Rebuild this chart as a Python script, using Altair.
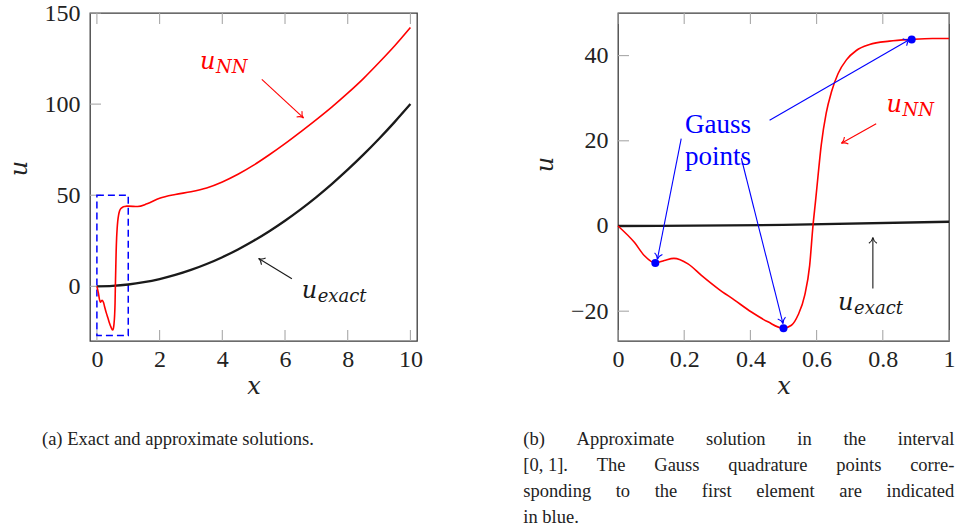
import math
import altair as alt
import pandas as pd

# ---------------- data ----------------
# exact solution u = x^2, sampled on [0, 10]
exact_x = [0, 0.5, 1, 1.5, 2, 2.5, 3, 3.5, 4, 4.5, 5, 5.5, 6, 6.5, 7, 7.5, 8, 8.5, 9, 9.5, 10]
exact_u = [0, 0.25, 1, 2.25, 4, 6.25, 9, 12.25, 16, 20.25, 25, 30.25, 36, 42.25, 49,
           56.25, 64, 72.25, 81, 90.25, 100]

# network solution on the first element [0, 1]
nn_x_first = [0, 0.05, 0.08, 0.1127, 0.14, 0.169, 0.2115, 0.252, 0.302, 0.352, 0.403,
              0.453, 0.4985, 0.524, 0.544, 0.564, 0.579, 0.589, 0.597, 0.604, 0.614,
              0.629, 0.645, 0.665, 0.69, 0.72, 0.76, 0.82, 0.8873, 0.95, 1.0]
nn_u_first = [0, -3.9, -7.0, -8.7, -8.1, -7.6, -8.9, -11.6, -14.7, -17.4, -20.2,
              -22.5, -24.0, -23.3, -20.9, -16.3, -9.3, 0, 6.0, 11.5, 19.0,
              26.5, 31.5, 35.8, 39.0, 41.2, 42.6, 43.4, 43.8, 44.0, 44.0]

# network solution on (1, 10]
nn_x_rest = [1.3, 1.6, 2.0, 2.5, 3.0, 3.5, 4.0, 4.5, 5.0, 5.5, 6.0, 6.5, 7.0, 7.5,
             8.0, 8.5, 9.0, 9.5, 10.0]
nn_u_rest = [43.8, 45.3, 48.3, 50.4, 51.9, 54.0, 57.3, 61.5, 66.5, 72.2, 78.3, 84.8,
             91.5, 98.5, 106.0, 114.0, 122.8, 132.0, 142.0]

# Gauss quadrature points of the first element
gauss_x = [0.1127, 0.5, 0.8873]
gauss_u = [-8.7, -24.0, 43.8]

# window of the first element, outlined on the left panel
box_x = [0, 1]
box_u = [-27, 50]

left_xticks = [0, 2, 4, 6, 8, 10]
left_uticks = [0, 50, 100, 150]
right_xticks = [0, 0.2, 0.4, 0.6, 0.8, 1]
right_uticks = [-20, 0, 20, 40]

# annotation arrows: start (x1, u1) -> tip (x2, u2)
left_arrow_x1 = [5.26, 6.22]
left_arrow_u1 = [113.6, 4.2]
left_arrow_x2 = [6.59, 5.16]
left_arrow_u2 = [92.4, 15.3]
left_arrow_col = ["#ff0000", "#1a1a1a"]

right_arrow_x1 = [0.780, 0.770, 0.191, 0.3726, 0.458]
right_arrow_u1 = [24.0, -14.7, 20.5, 15.9, 24.8]
right_arrow_x2 = [0.675, 0.770, 0.119, 0.4985, 0.881]
right_arrow_u2 = [19.4, -2.7, -7.8, -22.9, 43.8]
right_arrow_col = ["#ff0000", "#1a1a1a", "#0000ff", "#0000ff", "#0000ff"]

# curve labels u_{NN}, u_{exact}
left_label_x = [3.285, 6.53]
left_label_u = [119.1, -6.3]
right_label_x = [0.811, 0.665]
right_label_u = [26.7, -19.8]
label_sub = ["NN", "exact"]
label_col = ["#ff0000", "#1a1a1a"]

gauss_text_x = [0.302]
gauss_text_u = [23.8]

caption_a = "(a) Exact and approximate solutions."
caption_b = [
    ["(b)", "Approximate", "solution", "in", "the", "interval"],
    ["[0, 1].", "The", "Gauss", "quadrature", "points", "corre-"],
    ["sponding", "to", "the", "first", "element", "are", "indicated"],
    ["in", "blue."],
]

# ---------------- styling ----------------
RED = "#ff0000"
BLUE = "#0000ff"
BLACK = "#1a1a1a"
TICK = "#a8a8a8"
FRAME = "#3c3c3c"
TXT = "#222222"
SERIF = "Liberation Serif"
MATH = "DejaVu Serif"

H = 328
LW, RW = 327, 331
left_xdom, left_udom = [-0.22, 10.21], [-30, 150]
right_xdom, right_udom = [0, 1], [-27, 50]

ARROW_HEAD = "M -1 -0.7 C -0.75 -0.3 -0.35 -0.07 0 0 C -0.35 0.07 -0.75 0.3 -1 0.7"


def axes(xvals, uvals, title_y):
    common = dict(labelExpr="format(datum.value, '~f')", labelFont=SERIF, labelFontSize=24,
                  labelColor=TXT, ticks=False, domain=False, grid=False,
                  labelFlush=False, labelOverlap=False,
                  titleFont=MATH, titleFontStyle="italic", titleFontWeight="normal",
                  titleFontSize=24, titleColor=TXT)
    ax = alt.Axis(values=xvals, title="x", labelPadding=6, titlePadding=3, **common)
    ay = alt.Axis(values=uvals, title="u", labelPadding=10, titlePadding=13,
                  titleY=title_y, **common)
    return ax, ay


class Panel:
    """Shared scales and axes of one plot panel."""

    def __init__(self, xdom, udom, xticks, uticks, w, h, title_y):
        self.xdom, self.udom, self.w, self.h = xdom, udom, w, h
        self.xs = alt.Scale(domain=xdom, nice=False, zero=False)
        self.us = alt.Scale(domain=udom, nice=False, zero=False)
        self.ax, self.ay = axes(xticks, uticks, title_y)
        self.xticks, self.uticks = xticks, uticks

    def X(self, field):
        return alt.X(field, scale=self.xs, axis=self.ax)

    def Y(self, field):
        return alt.Y(field, scale=self.us, axis=self.ay)


def tick_marks(p):
    tx = pd.DataFrame({"t": p.xticks})
    tu = pd.DataFrame({"t": p.uticks})
    rule = dict(color=TICK, strokeWidth=1.1)
    bottom = alt.Chart(tx).mark_rule(**rule).encode(
        x=p.X("t:Q"), y=alt.value(p.h), y2=alt.value(p.h - 11))
    top = alt.Chart(tx).mark_rule(**rule).encode(
        x=p.X("t:Q"), y=alt.value(0), y2=alt.value(11))
    left = alt.Chart(tu).mark_rule(**rule).encode(
        y=p.Y("t:Q"), x=alt.value(0), x2=alt.value(11))
    return [bottom, top, left]


def arrows(p, x1, u1, x2, u2, cols):
    sx = p.w / (p.xdom[1] - p.xdom[0])
    su = p.h / (p.udom[1] - p.udom[0])
    ang = [math.degrees(math.atan2(-(b2 - b1) * su, (a2 - a1) * sx)) % 360
           for a1, b1, a2, b2 in zip(x1, u1, x2, u2)]
    df = pd.DataFrame({"x1": x1, "u1": u1, "x2": x2, "u2": u2, "c": cols, "ang": ang})
    shaft = alt.Chart(df).mark_rule(strokeWidth=1.1).encode(
        x=p.X("x1:Q"), y=p.Y("u1:Q"), x2="x2:Q", y2="u2:Q",
        color=alt.Color("c:N", scale=None))
    head = alt.Chart(df).mark_point(shape=ARROW_HEAD, filled=False, size=130,
                                    strokeWidth=1.1, opacity=1).encode(
        x=p.X("x2:Q"), y=p.Y("u2:Q"),
        angle=alt.Angle("ang:Q", scale=None), color=alt.Color("c:N", scale=None))
    return [shaft, head]


def curve_labels(p, lx, lu):
    df = pd.DataFrame({"x": lx, "u": lu, "sub": label_sub, "c": label_col})
    main = alt.Chart(df).mark_text(font=MATH, fontStyle="italic", fontSize=24,
                                   align="left", baseline="alphabetic").encode(
        x=p.X("x:Q"), y=p.Y("u:Q"), text=alt.value("u"), color=alt.Color("c:N", scale=None))
    sub = alt.Chart(df).mark_text(font=MATH, fontStyle="italic", fontSize=18,
                                  align="left", baseline="alphabetic", dx=16, dy=4).encode(
        x=p.X("x:Q"), y=p.Y("u:Q"), text="sub:N", color=alt.Color("c:N", scale=None))
    return [main, sub]


# rough Times-like advance widths (em) used to spread justified caption lines
CW = {"a": .444, "b": .5, "c": .444, "d": .5, "e": .444, "f": .333, "g": .5, "h": .5,
      "i": .278, "j": .278, "k": .5, "l": .278, "m": .778, "n": .5, "o": .5, "p": .5,
      "q": .5, "r": .333, "s": .389, "t": .278, "u": .5, "v": .5, "w": .722, "x": .5,
      "y": .5, "z": .444, "A": .722, "G": .722, "T": .611, "E": .611, "(": .333,
      ")": .333, "[": .333, "]": .333, ",": .25, ".": .25, "-": .333, " ": .25,
      "0": .5, "1": .5}
CAP_SIZE = 18.5


def word_width(w):
    return sum(CW.get(ch, .5) for ch in w) * CAP_SIZE


def caption_words(lines, x0, x1, y0, dy):
    layers = []
    for i, words in enumerate(lines):
        y = y0 + i * dy
        justify = i < len(lines) - 1
        widths = [word_width(w) for w in words]
        if justify and len(words) > 1:
            gap = (x1 - x0 - sum(widths)) / (len(words) - 1)
        else:
            gap = 0.25 * CAP_SIZE
        pos = x0
        for j, w in enumerate(words):
            last = justify and j == len(words) - 1
            layers.append(
                alt.Chart(alt.Data(values=[{}])).mark_text(
                    font=SERIF, fontSize=CAP_SIZE, color=TXT,
                    align="right" if last else "left", baseline="middle").encode(
                    x=alt.value(x1 if last else pos), y=alt.value(y), text=alt.value(w)))
            pos += widths[j] + gap
    return layers


df_exact = pd.DataFrame({"x": exact_x, "u": exact_u})

# ---------------- left panel: whole domain ----------------
L = Panel(left_xdom, left_udom, left_xticks, left_uticks, LW, H, 155)

df_nn_all = pd.DataFrame({"x": nn_x_first + nn_x_rest, "u": nn_u_first + nn_u_rest})
df_box = pd.DataFrame({"x": [box_x[0]], "x2": [box_x[1]], "u": [box_u[0]], "u2": [box_u[1]]})

left_layers = tick_marks(L)
left_layers += [
    alt.Chart(df_box).mark_rect(fill=None, stroke=BLUE, strokeWidth=1.5,
                                strokeDash=[7, 4]).encode(
        x=L.X("x:Q"), x2="x2:Q", y=L.Y("u:Q"), y2="u2:Q"),
    alt.Chart(df_exact).mark_line(color=BLACK, strokeWidth=2.3, interpolate="monotone").encode(
        x=L.X("x:Q"), y=L.Y("u:Q")),
    alt.Chart(df_nn_all).mark_line(color=RED, strokeWidth=1.6, interpolate="monotone").encode(
        x=L.X("x:Q"), y=L.Y("u:Q")),
]
left_layers += arrows(L, left_arrow_x1, left_arrow_u1, left_arrow_x2, left_arrow_u2,
                      left_arrow_col)
left_layers += curve_labels(L, left_label_x, left_label_u)
left_layers.append(
    alt.Chart(alt.Data(values=[{}])).mark_text(
        font=SERIF, fontSize=CAP_SIZE, color=TXT, align="left", baseline="middle").encode(
        x=alt.value(-48), y=alt.value(426), text=alt.value(caption_a)))

left = alt.layer(*left_layers).properties(width=LW, height=H)

# ---------------- right panel: first element ----------------
R = Panel(right_xdom, right_udom, right_xticks, right_uticks, RW, H, 151)

df_exact_first = df_exact[df_exact["x"] <= 1]
df_nn_first = pd.DataFrame({"x": nn_x_first, "u": nn_u_first})
df_gauss = pd.DataFrame({"x": gauss_x, "u": gauss_u})
df_gauss_text = pd.DataFrame({"x": gauss_text_x, "u": gauss_text_u})

right_layers = tick_marks(R)
right_layers += [
    alt.Chart(df_exact_first).mark_line(color=BLACK, strokeWidth=2.3,
                                        interpolate="monotone").encode(
        x=R.X("x:Q"), y=R.Y("u:Q")),
    alt.Chart(df_nn_first).mark_line(color=RED, strokeWidth=1.6, interpolate="monotone").encode(
        x=R.X("x:Q"), y=R.Y("u:Q")),
]
right_layers += arrows(R, right_arrow_x1, right_arrow_u1, right_arrow_x2, right_arrow_u2,
                       right_arrow_col)
right_layers += [
    alt.Chart(df_gauss).mark_circle(size=64, color=BLUE, opacity=1).encode(
        x=R.X("x:Q"), y=R.Y("u:Q")),
    alt.Chart(df_gauss_text).mark_text(font=SERIF, fontSize=27, color=BLUE, align="center",
                                       baseline="middle", lineBreak="\n", lineHeight=32).encode(
        x=R.X("x:Q"), y=R.Y("u:Q"), text=alt.value("Gauss\npoints")),
]
right_layers += curve_labels(R, right_label_x, right_label_u)
right_layers += caption_words(caption_b, -94.7, 336.3, 426, 26)

right = alt.layer(*right_layers).properties(width=RW, height=H)

chart = (
    alt.hconcat(left, right, spacing=201, bounds="flush")
    .configure_view(stroke=FRAME, strokeWidth=1.3)
    .properties(padding={"left": 6, "top": 0, "right": 0, "bottom": 0}, background="white")
)

chart.save("out.html", embed_options={"renderer": "svg", "actions": False})
